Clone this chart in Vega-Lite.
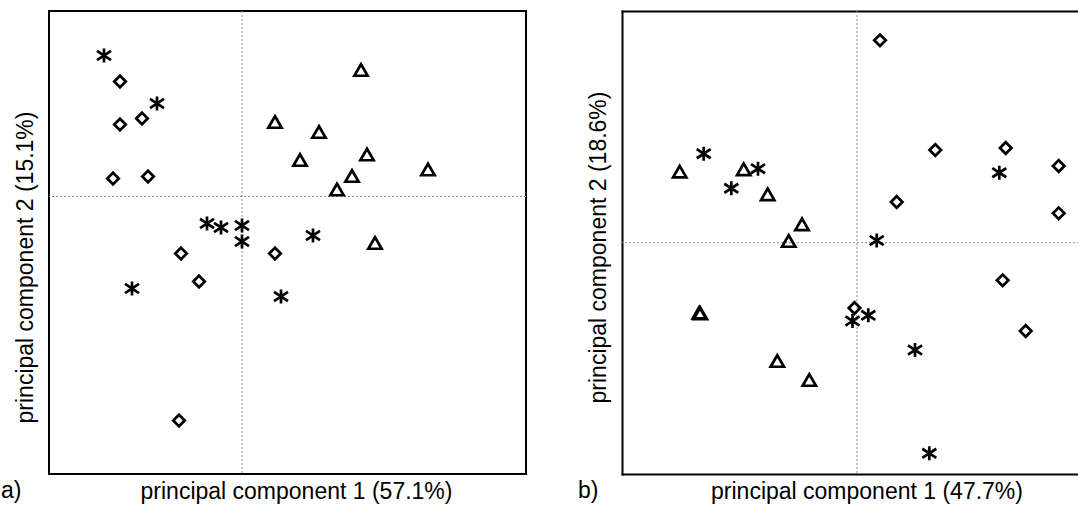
{
  "$schema": "https://vega.github.io/schema/vega-lite/v6.json",
  "background": "white",
  "padding": {"left": 0, "top": 9, "right": 0, "bottom": 0},
  "spacing": 50,
  "config": {
    "view": {"stroke": "black", "strokeWidth": 2},
    "font": "Liberation Sans"
  },
  "datasets": {
    "zero": [{"z": 0}],
    "a": [
      {"group": "asterisk", "pc1": -1.38, "pc2": 1.41},
      {"group": "asterisk", "pc1": -0.85, "pc2": 0.93},
      {"group": "asterisk", "pc1": -0.35, "pc2": -0.27},
      {"group": "asterisk", "pc1": -0.21, "pc2": -0.31},
      {"group": "asterisk", "pc1": 0.0, "pc2": -0.29},
      {"group": "asterisk", "pc1": 0.0, "pc2": -0.45},
      {"group": "asterisk", "pc1": -1.10, "pc2": -0.92},
      {"group": "asterisk", "pc1": 0.39, "pc2": -1.0},
      {"group": "asterisk", "pc1": 0.71, "pc2": -0.39},
      {"group": "diamond", "pc1": -1.22, "pc2": 1.15},
      {"group": "diamond", "pc1": -1.22, "pc2": 0.72},
      {"group": "diamond", "pc1": -1.0, "pc2": 0.78},
      {"group": "diamond", "pc1": -1.29, "pc2": 0.18},
      {"group": "diamond", "pc1": -0.94, "pc2": 0.20},
      {"group": "diamond", "pc1": -0.61, "pc2": -0.57},
      {"group": "diamond", "pc1": 0.33, "pc2": -0.57},
      {"group": "diamond", "pc1": -0.43, "pc2": -0.85},
      {"group": "diamond", "pc1": -0.63, "pc2": -2.24},
      {"group": "triangle", "pc1": 0.33, "pc2": 0.745},
      {"group": "triangle", "pc1": 1.19, "pc2": 1.265},
      {"group": "triangle", "pc1": 0.77, "pc2": 0.645},
      {"group": "triangle", "pc1": 0.58, "pc2": 0.365},
      {"group": "triangle", "pc1": 1.25, "pc2": 0.42},
      {"group": "triangle", "pc1": 1.10, "pc2": 0.205},
      {"group": "triangle", "pc1": 0.95, "pc2": 0.07},
      {"group": "triangle", "pc1": 1.86, "pc2": 0.27},
      {"group": "triangle", "pc1": 1.33, "pc2": -0.465}
    ],
    "b": [
      {"group": "asterisk", "pc1": -1.533, "pc2": 0.89},
      {"group": "asterisk", "pc1": -0.99, "pc2": 0.74},
      {"group": "asterisk", "pc1": -1.257, "pc2": 0.544},
      {"group": "asterisk", "pc1": 0.197, "pc2": 0.022},
      {"group": "asterisk", "pc1": 1.423, "pc2": 0.70},
      {"group": "asterisk", "pc1": -0.045, "pc2": -0.783},
      {"group": "asterisk", "pc1": 0.113, "pc2": -0.726},
      {"group": "asterisk", "pc1": 0.58, "pc2": -1.073},
      {"group": "asterisk", "pc1": 0.723, "pc2": -2.106},
      {"group": "triangle", "pc1": -1.773, "pc2": 0.71},
      {"group": "triangle", "pc1": -1.133, "pc2": 0.734},
      {"group": "triangle", "pc1": -0.893, "pc2": 0.484},
      {"group": "triangle", "pc1": -0.55, "pc2": 0.184},
      {"group": "triangle", "pc1": -0.683, "pc2": 0.017},
      {"group": "triangle", "pc1": -1.577, "pc2": -0.70},
      {"group": "triangle", "pc1": -1.567, "pc2": -0.706},
      {"group": "triangle", "pc1": -0.797, "pc2": -1.183},
      {"group": "triangle", "pc1": -0.477, "pc2": -1.373},
      {"group": "diamond", "pc1": 0.23, "pc2": 2.024},
      {"group": "diamond", "pc1": 0.783, "pc2": 0.927},
      {"group": "diamond", "pc1": 1.487, "pc2": 0.947},
      {"group": "diamond", "pc1": 2.017, "pc2": 0.767},
      {"group": "diamond", "pc1": 0.397, "pc2": 0.407},
      {"group": "diamond", "pc1": 2.017, "pc2": 0.294},
      {"group": "diamond", "pc1": -0.025, "pc2": -0.653},
      {"group": "diamond", "pc1": 1.457, "pc2": -0.376},
      {"group": "diamond", "pc1": 1.687, "pc2": -0.883}
    ]
  },
  "hconcat": [
    {
      "width": 477,
      "height": 463,
      "title": {"text": "a)", "orient": "bottom", "anchor": "start", "frame": "group", "offset": 0, "dx": -48, "dy": -5, "baseline": "alphabetic", "fontSize": 23, "fontWeight": "normal", "font": "Liberation Sans", "color": "black"},
      "layer": [
        {
          "data": {"name": "zero"},
          "mark": {"type": "rule", "color": "#8c8c8c", "strokeWidth": 1, "strokeDash": [2, 2]},
          "encoding": {
            "x": {"field": "z", "type": "quantitative", "scale": {"domain": [-1.93, 2.84], "nice": false, "zero": false},
              "axis": {"title": "principal component 1 (57.1%)", "domain": false, "ticks": false, "labels": false, "grid": false, "titleX": 247, "titleY": 24, "titleBaseline": "alphabetic", "titleFontSize": 23, "titleFontWeight": "normal", "titleFont": "Liberation Sans", "titleColor": "black"}}
          }
        },
        {
          "data": {"name": "zero"},
          "mark": {"type": "rule", "color": "#8c8c8c", "strokeWidth": 1, "strokeDash": [2, 2]},
          "encoding": {
            "y": {"field": "z", "type": "quantitative", "scale": {"domain": [-2.775, 1.855], "nice": false, "zero": false},
              "axis": {"title": "principal component 2 (15.1%)", "domain": false, "ticks": false, "labels": false, "grid": false, "titleX": -17, "titleY": 256, "titleBaseline": "alphabetic", "titleFontSize": 23, "titleFontWeight": "normal", "titleFont": "Liberation Sans", "titleColor": "black"}}
          }
        },
        {
          "data": {"name": "a"},
          "mark": {"type": "point", "filled": false, "color": "black", "strokeWidth": 2.7, "opacity": 1, "size": 196},
          "encoding": {
            "x": {"field": "pc1", "type": "quantitative", "scale": {"domain": [-1.93, 2.84], "nice": false, "zero": false},
              "axis": {"title": "principal component 1 (57.1%)", "domain": false, "ticks": false, "labels": false, "grid": false, "titleX": 247, "titleY": 24, "titleBaseline": "alphabetic", "titleFontSize": 23, "titleFontWeight": "normal", "titleFont": "Liberation Sans", "titleColor": "black"}},
            "y": {"field": "pc2", "type": "quantitative", "scale": {"domain": [-2.775, 1.855], "nice": false, "zero": false},
              "axis": {"title": "principal component 2 (15.1%)", "domain": false, "ticks": false, "labels": false, "grid": false, "titleX": -17, "titleY": 256, "titleBaseline": "alphabetic", "titleFontSize": 23, "titleFontWeight": "normal", "titleFont": "Liberation Sans", "titleColor": "black"}},
            "shape": {"field": "group", "type": "nominal", "scale": {"domain": ["asterisk", "diamond", "triangle"], "range": ["M0,-1L0,1M-1,-0.65L1,0.65M-1,0.65L1,-0.65", "M-0.82,0L0,-0.82L0.82,0L0,0.82Z", "M-0.95,0.82L0.95,0.82L0,-0.82Z"]}, "legend": null}
          }
        }
      ]
    },
    {
      "width": 457,
      "height": 463,
      "view": {"stroke": null},
      "title": {"text": "b)", "orient": "bottom", "anchor": "start", "frame": "group", "offset": 0, "dx": -44, "dy": -5, "baseline": "alphabetic", "fontSize": 23, "fontWeight": "normal", "font": "Liberation Sans", "color": "black"},
      "resolve": {"axis": {"x": "independent"}},
      "layer": [
        {
          "data": {"name": "zero"},
          "mark": {"type": "rule", "color": "#8c8c8c", "strokeWidth": 1, "strokeDash": [2, 2]},
          "encoding": {
            "x": {"field": "z", "type": "quantitative", "scale": {"domain": [-2.35, 2.22], "nice": false, "zero": false},
              "axis": {"orient": "top", "title": null, "domain": true, "domainColor": "black", "domainWidth": 2, "domainCap": "square", "ticks": false, "labels": false, "grid": false}}
          }
        },
        {
          "data": {"name": "zero"},
          "mark": {"type": "rule", "color": "#8c8c8c", "strokeWidth": 1, "strokeDash": [2, 2]},
          "encoding": {
            "y": {"field": "z", "type": "quantitative", "scale": {"domain": [-2.313, 2.317], "nice": false, "zero": false},
              "axis": {"title": "principal component 2 (18.6%)", "domain": true, "domainColor": "black", "domainWidth": 2, "domainCap": "square", "ticks": false, "labels": false, "grid": false, "titleX": -17, "titleY": 236, "titleBaseline": "alphabetic", "titleFontSize": 23, "titleFontWeight": "normal", "titleFont": "Liberation Sans", "titleColor": "black"}}
          }
        },
        {
          "data": {"name": "b"},
          "mark": {"type": "point", "filled": false, "color": "black", "strokeWidth": 2.7, "opacity": 1, "size": 196},
          "encoding": {
            "x": {"field": "pc1", "type": "quantitative", "scale": {"domain": [-2.35, 2.22], "nice": false, "zero": false},
              "axis": {"orient": "bottom", "title": "principal component 1 (47.7%)", "domain": true, "domainColor": "black", "domainWidth": 2, "domainCap": "square", "ticks": false, "labels": false, "grid": false, "titleX": 244.5, "titleY": 24, "titleBaseline": "alphabetic", "titleFontSize": 23, "titleFontWeight": "normal", "titleFont": "Liberation Sans", "titleColor": "black"}},
            "y": {"field": "pc2", "type": "quantitative", "scale": {"domain": [-2.313, 2.317], "nice": false, "zero": false},
              "axis": {"title": "principal component 2 (18.6%)", "domain": true, "domainColor": "black", "domainWidth": 2, "domainCap": "square", "ticks": false, "labels": false, "grid": false, "titleX": -17, "titleY": 236, "titleBaseline": "alphabetic", "titleFontSize": 23, "titleFontWeight": "normal", "titleFont": "Liberation Sans", "titleColor": "black"}},
            "shape": {"field": "group", "type": "nominal", "scale": {"domain": ["asterisk", "diamond", "triangle"], "range": ["M0,-1L0,1M-1,-0.65L1,0.65M-1,0.65L1,-0.65", "M-0.82,0L0,-0.82L0.82,0L0,0.82Z", "M-0.95,0.82L0.95,0.82L0,-0.82Z"]}, "legend": null}
          }
        }
      ]
    }
  ]
}
